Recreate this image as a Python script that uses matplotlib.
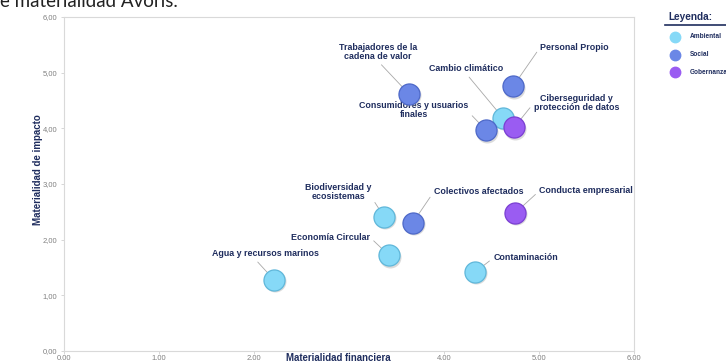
import matplotlib
matplotlib.use("Agg")
import matplotlib.pyplot as plt
import matplotlib.transforms as mtransforms
from matplotlib.lines import Line2D

# Datos de la matriz de doble materialidad
temas = [
    "Agua y recursos marinos",
    "Economía Circular",
    "Biodiversidad y\necosistemas",
    "Contaminación",
    "Cambio climático",
    "Colectivos afectados",
    "Trabajadores de la\ncadena de valor",
    "Consumidores y usuarios\nfinales",
    "Personal Propio",
    "Conducta empresarial",
    "Ciberseguridad y\nprotección de datos",
]
categorias = [
    "Ambiental", "Ambiental", "Ambiental", "Ambiental", "Ambiental",
    "Social", "Social", "Social", "Social",
    "Gobernanza", "Gobernanza",
]
mat_financiera = [2.21, 3.42, 3.37, 4.33, 4.62, 3.67, 3.63, 4.44, 4.73, 4.75, 4.74]
mat_impacto = [1.28, 1.72, 2.41, 1.42, 4.19, 2.30, 4.62, 3.97, 4.76, 2.48, 4.02]

leyenda = ["Ambiental", "Social", "Gobernanza"]
colores = {"Ambiental": "#86d9f7", "Social": "#6b87e6", "Gobernanza": "#9a5cf2"}
bordes = {"Ambiental": "#5fb7da", "Social": "#4d68c8", "Gobernanza": "#7a3fd2"}

# el 3.00 del eje X queda tapado por el título del eje
xticks_txt = ["0.00", "1.00", "2.00", "", "4.00", "5.00", "6.00"]
yticks_txt = ["0,00", "1,00", "2,00", "3,00", "4,00", "5,00", "6,00"]

# Posición de cada etiqueta respecto a su burbuja (píxeles), alineación y punto de salida de la guía
offsets = [(-9, 26), (-19, 18), (-46, 25), (18, 14), (-37, 49), (21, 31),
           (-31, 42), (-72, 20), (27, 39), (24, 22), (62, 24)]
alineacion = ["center", "right", "center", "left", "center", "left",
              "center", "center", "left", "left", "center"]
salida = [(0.4, 0), (1, 0.5), (0.95, 0.5), (0, 0.5), (0.5, 0), (0, 0.5),
          (0.5, 0), (1, 0.4), (0, 0.5), (0, 0.5), (0, 0.5)]

azul = "#1f2d5e"
gris = "#808080"
W, H = 726, 363

fig = plt.figure(figsize=(7.26, 3.63), dpi=100)
ax = fig.add_axes([64 / W, 1 - 351 / H, 570 / W, 334 / H])
ax.set_xlim(0, 6)
ax.set_ylim(0, 6)
for s in ax.spines.values():
    s.set_color("#d9d9d9")
    s.set_linewidth(0.8)

ax.set_xticks(range(7))
ax.set_xticklabels(xticks_txt)
ax.set_yticks(range(7))
ax.set_yticklabels(yticks_txt)
ax.tick_params(colors="#d0d0d0", labelcolor=gris, labelsize=5.5, length=2, width=0.6)
ax.tick_params(axis="x", pad=1)
ax.tick_params(axis="y", pad=3)
for lab in ax.get_xticklabels() + ax.get_yticklabels():
    lab.set_family("Liberation Sans")

# guías y etiquetas
for i, t in enumerate(temas):
    ax.annotate(t, (mat_financiera[i], mat_impacto[i]),
                xytext=offsets[i], textcoords="offset pixels",
                ha=alineacion[i], va="center", multialignment="center",
                fontsize=6.4, fontweight="bold", color=azul,
                family="Liberation Sans", linespacing=1.05, zorder=2,
                arrowprops=dict(arrowstyle="-", color="#a8a8a8", lw=0.6,
                                relpos=salida[i], shrinkA=1, shrinkB=0))

# burbujas con sombra
sombra = mtransforms.offset_copy(ax.transData, fig=fig, x=1.0, y=-1.5, units="dots")
for cat in leyenda:
    xs = [x for x, c in zip(mat_financiera, categorias) if c == cat]
    ys = [y for y, c in zip(mat_impacto, categorias) if c == cat]
    ax.scatter(xs, ys, s=250, color="#9a9a9a", alpha=0.35, linewidths=0,
               transform=sombra, zorder=3)
    ax.scatter(xs, ys, s=230, color=colores[cat], edgecolors=bordes[cat],
               linewidths=0.9, zorder=4)

# títulos de ejes
fig.text(38 / W, 1 - 170 / H, "Materialidad de impacto", rotation=90,
         ha="center", va="center", fontsize=7.0, fontweight="bold",
         color=azul, family="Liberation Sans")
fig.text(338 / W, 1 - 358 / H, "Materialidad financiera", ha="center",
         va="center", fontsize=6.9, fontweight="bold", color=azul,
         family="Liberation Sans")

# título recortado
fig.text(0, 1 - 7 / H, "e materialidad Avoris.", ha="left", va="baseline",
         fontsize=13.5, color="#222222", family="Lato")

# leyenda
fig.text(668 / W, 1 - 17 / H, "Leyenda:", ha="left", va="center",
         fontsize=7.2, fontweight="bold", color=azul, family="Liberation Sans")
fig.add_artist(Line2D([665 / W, 1], [1 - 25 / H] * 2, color=azul, lw=1.2))
for k, cat in enumerate(leyenda):
    yk = 1 - (37 + 17.5 * k) / H
    fig.add_artist(Line2D([675 / W], [yk], marker="o", markersize=7.5, ls="none",
                          markerfacecolor=colores[cat], markeredgecolor=colores[cat]))
    fig.text(690 / W, yk, cat, ha="left", va="center", fontsize=4.7,
             fontweight="bold", color=azul, family="Liberation Sans")

fig.savefig("out.png", dpi=100, facecolor="white")
